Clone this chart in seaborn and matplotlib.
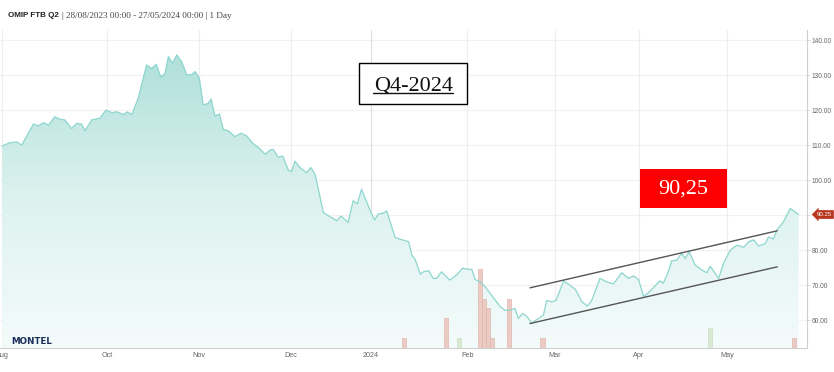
import numpy as np
import pandas as pd
import matplotlib
matplotlib.use("Agg")
import matplotlib.pyplot as plt
import matplotlib.transforms as mtransforms
from matplotlib.patches import Rectangle
from matplotlib.lines import Line2D
import seaborn as sns

# ---------------- data ----------------
# trading-day index (0 = 28/08/2023) and price
day = [0, 1.9, 3.5, 4.7, 7.5, 8.7, 9.9, 11.1, 12.6, 13.8, 15.0, 16.6, 17.8, 19.0, 19.8,
       21.4, 23.4, 24.8, 26.2, 27.4, 29.0, 29.9, 31.0, 32.5, 34.5, 35.7, 36.8, 37.9, 38.9,
       39.7, 40.7, 41.7, 42.9, 44.1, 45.3, 46.1, 47.1, 48.0, 49.2, 49.9, 50.8, 51.9, 52.8,
       54.0, 55.6, 57.0, 58.4, 60.0, 61.2, 62.8, 64.0, 64.7, 65.9, 67.0, 68.3, 69.1, 69.9,
       71.1, 72.7, 73.7, 74.7, 76.7, 78.3, 79.9, 80.9, 82.6, 83.8, 84.8, 85.8, 87.0, 88.0,
       88.9, 89.8, 90.9, 91.8, 93.8, 95.0, 97.0, 97.8, 98.6, 99.8, 100.6, 101.8, 102.9,
       103.7, 104.9, 106.8, 108.5, 109.9, 111.3, 112.1, 112.9, 114.1, 115.3, 116.5, 117.7,
       118.9, 120.0, 121.2, 122.4, 123.2, 124.3, 125.4, 126.4, 128.0, 129.2, 130.0, 131.2,
       132.2, 134.0, 135.2, 136.8, 138.4, 139.7, 140.7, 142.7, 144.3, 145.9, 147.9, 149.5,
       150.7, 151.9, 153.1, 154.3, 155.8, 157.0, 157.8, 159.0, 159.8, 161.0, 162.2, 163.0,
       164.0, 165.4, 167.0, 168.2, 169.0, 170.2, 171.0, 172.2, 173.8, 175.4, 177.0, 178.2,
       179.4, 180.5, 182.1, 182.9, 184.1, 184.9, 186.5, 188.1, 190.1]
price = [109.8, 110.8, 111.0, 110.1, 116.1, 115.6, 116.5, 115.8, 118.2, 117.5, 117.3, 114.8,
         116.3, 116.1, 114.2, 117.3, 117.8, 120.1, 119.4, 119.6, 118.8, 119.6, 118.8, 123.5,
         133.0, 132.0, 133.2, 129.5, 130.6, 135.4, 133.5, 135.9, 133.9, 130.1, 130.3, 131.1,
         129.2, 121.6, 122.0, 123.3, 118.4, 119.0, 114.6, 114.2, 112.5, 113.5, 112.7, 110.4,
         109.4, 107.5, 108.7, 108.9, 106.6, 107.0, 103.0, 102.5, 105.5, 103.7, 102.2, 103.7,
         101.8, 90.8, 89.6, 88.5, 89.8, 88.0, 94.2, 93.3, 97.5, 93.9, 91.0, 88.7, 90.4, 90.6,
         91.3, 83.7, 83.2, 82.5, 78.7, 77.4, 73.2, 73.9, 74.2, 72.0, 72.0, 73.9, 71.5, 73.0,
         74.9, 74.6, 74.6, 71.7, 71.0, 69.6, 67.7, 65.8, 63.9, 62.9, 62.9, 63.4, 60.6, 62.0,
         60.9, 59.2, 60.5, 61.5, 65.7, 65.3, 65.7, 71.2, 70.3, 68.9, 65.3, 64.1, 65.6, 72.0,
         71.0, 70.4, 73.6, 72.0, 72.7, 71.7, 66.9, 67.9, 69.8, 71.3, 70.6, 73.9, 77.0, 77.2,
         79.2, 77.7, 79.6, 75.8, 74.4, 73.6, 75.5, 73.4, 72.0, 76.3, 80.1, 81.5, 80.9, 82.5,
         83.0, 81.3, 81.9, 83.8, 83.3, 85.8, 88.2, 92.0, 90.25]

# volume bars (trading-day index, relative height, colour group)
vol_day = [96, 106, 109, 114, 115, 116, 117, 121, 129, 169, 189]
vol_val = [1, 3, 1, 8, 5, 4, 1, 5, 1, 2, 1]
vol_up = [False, False, True, False, False, False, False, False, False, True, False]

# trend channel (start/end day, values)
chan_day = [126, 185]
chan_upper = [69.3, 85.6]
chan_lower = [59.1, 75.3]

month_pos = [0, 25, 47, 69, 88, 111, 132, 152, 173]
month_lab = ["Aug", "Oct", "Nov", "Dec", "2024", "Feb", "Mar", "Apr", "May"]
y_ticks = [60, 70, 80, 90, 100, 110, 120, 130, 140]
last_value = 90.25

title_bold = "OMIP FTB Q2"
title_rest = "| 28/08/2023 00:00 - 27/05/2024 00:00 | 1 Day"
box_label = "Q4-2024"
red_label = "90,25"

# ---------------- figure ----------------
sns.set_style("white")
plt.rcParams["font.family"] = ["Liberation Sans", "DejaVu Sans"]

W, H = 834, 372
fig = plt.figure(figsize=(W / 100, H / 100), dpi=100)
fig.patch.set_facecolor("white")
ax = fig.add_axes([0.0, 1 - 348 / H, 807 / W, 318 / H])
ax.set_facecolor("white")

XMIN, XMAX = -0.48, 192.1
YMIN, YMAX = 52.1, 143.0
ax.set_xlim(XMIN, XMAX)
ax.set_ylim(YMIN, YMAX)

df = pd.DataFrame({"day": day, "price": price})

# gradient area
poly = ax.fill_between(df["day"], df["price"], YMIN, color="none", lw=0)
cmap = matplotlib.colors.LinearSegmentedColormap.from_list(
    "g", ["#f4fbfb", "#dcf2ef", "#abded8"])
grad = np.linspace(0, 1, 256).reshape(-1, 1)
img = ax.imshow(grad, extent=[XMIN, XMAX, YMIN, 140], origin="lower",
                aspect="auto", cmap=cmap, zorder=1)
img.set_clip_path(poly.get_paths()[0], transform=ax.transData)

# volume bars (bottom of axis)
trans = mtransforms.blended_transform_factory(ax.transData, ax.transAxes)
unit = 9.9 / 318
for d, v, up in zip(vol_day, vol_val, vol_up):
    fc = "#d9ebd3" if up else "#ebcbc3"
    ec = "#c9dfc2" if up else "#e0b6ab"
    ax.add_patch(Rectangle((d - 0.5, 0), 1.0, v * unit, transform=trans,
                           facecolor=fc, edgecolor=ec, lw=0.5, zorder=2))

# price line
sns.lineplot(data=df, x="day", y="price", ax=ax, color="#8dd6ce", lw=0.9, zorder=3)

# channel
ax.plot(chan_day, chan_upper, color="#555555", lw=1.0, zorder=4)
ax.plot(chan_day, chan_lower, color="#555555", lw=1.0, zorder=4)

# grid
for yv in y_ticks:
    ax.axhline(yv, color="#f1f1f1", lw=0.8, zorder=0.5)
for i, xv in enumerate(month_pos):
    ax.axvline(xv, color="#dedede" if month_lab[i] == "2024" else "#eeeeee",
               lw=0.8, zorder=0.5)

# axes styling
for s in ["left", "top"]:
    ax.spines[s].set_visible(False)
for s in ["right", "bottom"]:
    ax.spines[s].set_color("#cfcfcf")
    ax.spines[s].set_linewidth(0.8)
ax.yaxis.tick_right()
ax.set_yticks(y_ticks)
# the 90.00 label is hidden behind the last-value marker in the reference
ax.set_yticklabels(["" if v == 90 else f"{v:.2f}" for v in y_ticks],
                   fontsize=4.8, color="#666666")
ax.tick_params(axis="y", length=2, width=0.5, color="#cccccc", pad=1.5)
ax.set_xticks(month_pos)
ax.set_xticklabels(month_lab, fontsize=5.2, color="#666666")
ax.tick_params(axis="x", length=0, pad=3)
ax.set_xlabel("")
ax.set_ylabel("")
ax.grid(False)

# last value marker
tr_y = mtransforms.blended_transform_factory(ax.transAxes, ax.transData)
ax.text(1.012, last_value, f"{last_value:.2f}", transform=tr_y, fontsize=4.4,
        color="white", va="center", ha="left", zorder=6,
        bbox=dict(boxstyle="larrow,pad=0.25", fc="#b8361e", ec="#b8361e", lw=0.5),
        clip_on=False)

# title
fig.text(8 / W, 1 - 15.7 / H, title_bold, fontsize=5.8, fontweight="bold",
         color="#222222", va="center", ha="left")
fig.text(61.5 / W, 1 - 15.7 / H, title_rest, fontsize=6.6, color="#444444",
         family=["Liberation Serif"], va="center", ha="left")

# MONTEL logo text
fig.text(11 / W, 1 - 342 / H, "MONTEL", fontsize=6.3, fontweight="bold",
         color="#1b2d5c", va="center", ha="left", family=["DejaVu Sans"])

# Q4-2024 box
fig.patches.append(Rectangle((359.3 / W, 1 - 104 / H), 108 / W, 40.7 / H,
                             transform=fig.transFigure, facecolor="white",
                             edgecolor="black", lw=1.0, zorder=10))
fig.text(413.3 / W, 1 - 91 / H, box_label, fontsize=16, color="#111111",
         family=["Liberation Serif"], ha="center", va="baseline", zorder=11)
fig.lines.append(Line2D([373 / W, 453 / W], [1 - 93.2 / H, 1 - 93.2 / H],
                        transform=fig.transFigure, color="#111111", lw=1.0, zorder=11))

# red value box
fig.patches.append(Rectangle((640 / W, 1 - 208.3 / H), 86.7 / W, 39.3 / H,
                             transform=fig.transFigure, facecolor="#ff0000",
                             edgecolor="none", zorder=10))
fig.text(683.3 / W, 1 - 189 / H, red_label, fontsize=16, color="white",
         family=["Liberation Serif"], ha="center", va="center", zorder=11)

fig.savefig("out.png", dpi=100)
